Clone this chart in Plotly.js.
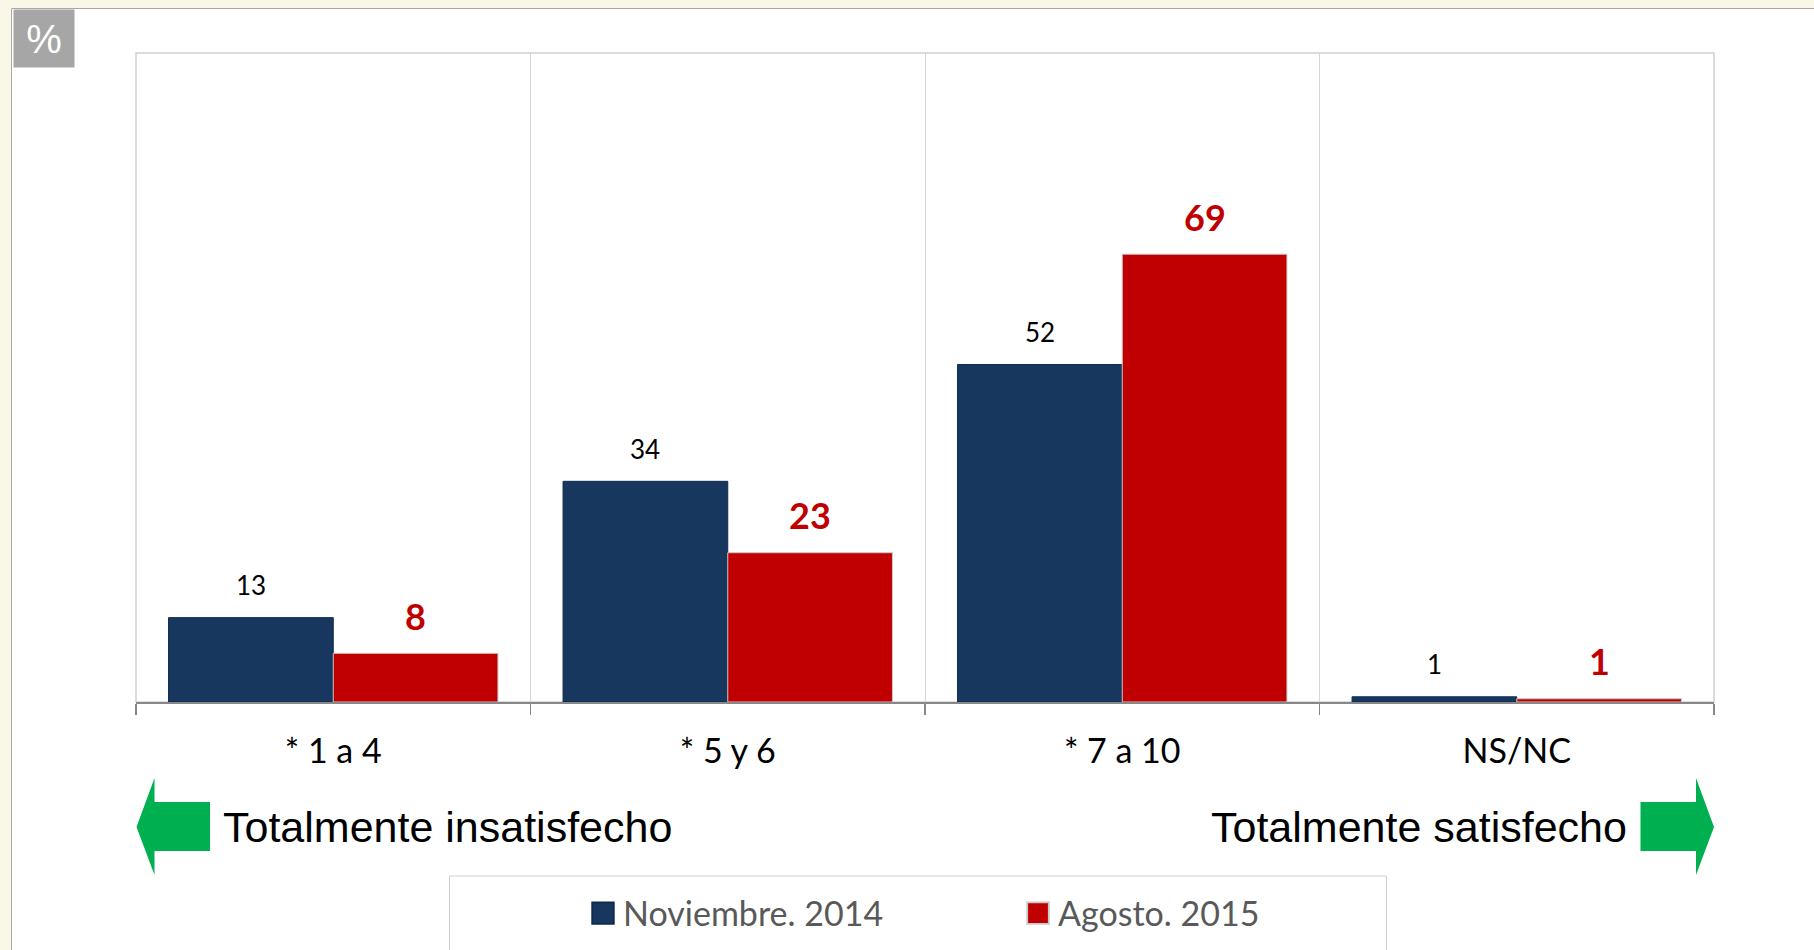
<!DOCTYPE html>
<html>
<head>
<meta charset="utf-8">
<script src="https://cdn.plot.ly/plotly-3.0.1.min.js"></script>
<style>
  html, body { margin: 0; padding: 0; background: #FAF7E8; }
  #chart { position: absolute; left: 0; top: 0; width: 1814px; height: 950px; }
</style>
</head>
<body>
<div id="chart"></div>
<script>
// ---- data ----
const categories = ['* 1 a 4', '* 5 y 6', '* 7 a 10', 'NS/NC'];
const seriesNames = ['Noviembre. 2014', 'Agosto. 2015'];
const nov2014 = [13, 34, 52, 0.8];
const ago2015 = [7.5, 23, 69, 0.5];
const unitLabel = '%';
const leftScaleLabel = 'Totalmente insatisfecho';
const rightScaleLabel = 'Totalmente satisfecho';

// ---- geometry (pixels) ----
const W = 1814, H = 950;
const L = 136, R = 1714, T = 53, B = 702;
const px2x = px => (px - L) / (R - L);
const py2y = py => (B - py) / (B - T);
const BARGAP = 0.165;
const barHalf = ((R - L) / categories.length) * (1 - BARGAP) / 4;

const blue = '#17375E', red = '#C00000';

const traces = [
  {type: 'bar', name: seriesNames[0], x: categories, y: nov2014,
   marker: {color: blue, line: {color: '#0E2A52', width: 1}}, hoverinfo: 'skip'},
  {type: 'bar', name: seriesNames[1], x: categories, y: ago2015,
   marker: {color: red, line: {color: '#C8C8C8', width: 1}}, hoverinfo: 'skip'}
];

const annotations = [];
categories.forEach((c, i) => {
  annotations.push({x: c, y: nov2014[i], xref: 'x', yref: 'y', xshift: -barHalf, yshift: 14.5,
    yanchor: 'bottom', showarrow: false, text: String(Math.round(nov2014[i])),
    font: {family: 'Lato', size: 26, color: '#000000'}});
  annotations.push({x: c, y: ago2015[i], xref: 'x', yref: 'y', xshift: barHalf, yshift: 13.5,
    yanchor: 'bottom', showarrow: false, text: String(Math.round(ago2015[i])),
    font: {family: 'Lato', size: 36, color: red, weight: 700}});
});
annotations.push({xref: 'paper', yref: 'paper', x: px2x(12.5), y: py2y(9.5), xanchor: 'left', yanchor: 'top',
  width: 60, height: 57, borderpad: 0, bgcolor: '#A6A6A6', showarrow: false, text: unitLabel,
  font: {family: 'Liberation Sans', size: 40, color: '#FFFFFF'}});
annotations.push({xref: 'paper', yref: 'paper', x: px2x(221), y: py2y(826.5), xanchor: 'left', yanchor: 'middle',
  showarrow: false, text: leftScaleLabel, font: {family: 'Liberation Sans', size: 43, color: '#000000'}});
annotations.push({xref: 'paper', yref: 'paper', x: px2x(1629), y: py2y(826.5), xanchor: 'right', yanchor: 'middle',
  showarrow: false, text: rightScaleLabel, font: {family: 'Liberation Sans', size: 43, color: '#000000'}});

function pathFromPx(pts) {
  return 'M' + pts.map(p => px2x(p[0]) + ',' + py2y(p[1])).join(' L') + ' Z';
}
const shapes = [
  // white panel
  {type: 'rect', xref: 'paper', yref: 'paper', layer: 'below',
   x0: px2x(11.5), x1: px2x(1830), y0: py2y(8.5), y1: py2y(970),
   fillcolor: '#FFFFFF', line: {color: '#A8A8A8', width: 1}},
  // plot border
  {type: 'rect', xref: 'paper', yref: 'paper', layer: 'below',
   x0: 0, x1: 1, y0: 0, y1: 1, line: {color: '#D0D0D0', width: 1.5}},
  // legend box
  {type: 'rect', xref: 'paper', yref: 'paper', layer: 'below',
   x0: px2x(449.5), x1: px2x(1386.5), y0: py2y(876), y1: py2y(970),
   line: {color: '#D0D0D0', width: 1}},
  // arrows
  {type: 'path', xref: 'paper', yref: 'paper', fillcolor: '#00B050', line: {width: 0},
   path: pathFromPx([[136.5, 827], [154.5, 778], [154.5, 802], [210, 802], [210, 851], [154.5, 851], [154.5, 875]])},
  {type: 'path', xref: 'paper', yref: 'paper', fillcolor: '#00B050', line: {width: 0},
   path: pathFromPx([[1714, 827], [1696, 778], [1696, 802], [1640.5, 802], [1640.5, 851], [1696, 851], [1696, 875]])}
];

const layout = {
  width: W, height: H, autosize: false,
  margin: {l: L, r: W - R, t: T, b: H - B, pad: 0, autoexpand: false},
  paper_bgcolor: '#FAF7E8', plot_bgcolor: '#FFFFFF',
  barmode: 'group', bargap: BARGAP, bargroupgap: 0,
  showlegend: true,
  legend: {orientation: 'h', x: px2x(583), xanchor: 'left', y: py2y(913.5), yanchor: 'middle',
    bgcolor: 'rgba(0,0,0,0)', borderwidth: 0, entrywidth: 390, entrywidthmode: 'pixels',
    font: {family: 'Lato', size: 34, color: '#595959'}, traceorder: 'normal'},
  xaxis: {type: 'category', showline: true, linecolor: '#888888', linewidth: 1.5, automargin: false,
    ticks: 'outside', tickson: 'boundaries', ticklen: 11, tickcolor: '#888888', tickwidth: 1.5,
    showgrid: true, gridcolor: '#D6D6D6', gridwidth: 1,
    tickfont: {family: 'Lato', size: 34, color: '#000000'}, ticklabelstandoff: 19, fixedrange: true},
  yaxis: {range: [0, 100], visible: false, showgrid: false, zeroline: false, fixedrange: true, automargin: false},
  annotations: annotations, shapes: shapes
};

Plotly.newPlot('chart', traces, layout, {staticPlot: true, displayModeBar: false}).then(gd => {
  gd.querySelectorAll('.legend .legendpoints path').forEach(p => {
    const t = p.getAttribute('transform') || '';
    p.setAttribute('transform', t + ' scale(1.8)');
  });
});
</script>
</body>
</html>
